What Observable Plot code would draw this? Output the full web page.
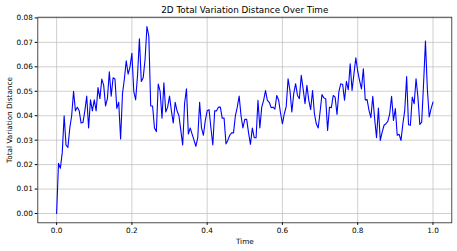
<!DOCTYPE html>
<html>
<head>
<meta charset="utf-8">
<script src="https://cdn.jsdelivr.net/npm/d3@7"></script>
<script src="https://cdn.jsdelivr.net/npm/@observablehq/plot@0.6"></script>
<style>
html, body { margin: 0; padding: 0; background: #fff; }
</style>
</head>
<body>
<div id="chart"></div>
<script>
const title = "2D Total Variation Distance Over Time";
const xLabel = "Time";
const yLabel = "Total Variation Distance";
const xTicks = [0, 0.2, 0.4, 0.6, 0.8, 1.0];
const yTicks = [0, 0.01, 0.02, 0.03, 0.04, 0.05, 0.06, 0.07, 0.08];
const tvd = [
  0, 0.0205, 0.0185, 0.025, 0.040, 0.028, 0.027, 0.035, 0.040, 0.050,
  0.042, 0.0435, 0.042, 0.037, 0.0372, 0.042, 0.048, 0.035, 0.0465, 0.042,
  0.0465, 0.042, 0.0515, 0.047, 0.055, 0.0525, 0.044, 0.047, 0.058, 0.048,
  0.0555, 0.055, 0.043, 0.0455, 0.0305, 0.049, 0.055, 0.0625, 0.057, 0.060,
  0.0655, 0.050, 0.0465, 0.0565, 0.0715, 0.054, 0.0555, 0.063, 0.0765, 0.0725,
  0.044, 0.044, 0.035, 0.0335, 0.053, 0.050, 0.039, 0.0535, 0.0415, 0.0435,
  0.048, 0.042, 0.037, 0.0455, 0.042, 0.040, 0.034, 0.028, 0.045, 0.051,
  0.0325, 0.035, 0.0325, 0.030, 0.0275, 0.031, 0.0455, 0.035, 0.032, 0.038,
  0.042, 0.0425, 0.035, 0.028, 0.042, 0.042, 0.0435, 0.0435, 0.039, 0.039,
  0.0285, 0.030, 0.032, 0.033, 0.033, 0.040, 0.0435, 0.048, 0.040, 0.035,
  0.0385, 0.0385, 0.033, 0.0283, 0.035, 0.031, 0.031, 0.0463, 0.035, 0.0435,
  0.0463, 0.0503, 0.0463, 0.0455, 0.0433, 0.0435, 0.0427, 0.0483, 0.0463, 0.041,
  0.0367, 0.0408, 0.0437, 0.0551, 0.0503, 0.0415, 0.049, 0.0531, 0.0483, 0.047,
  0.0565, 0.051, 0.0449, 0.0524, 0.0463, 0.0425, 0.0503, 0.0408, 0.0367, 0.035,
  0.0415, 0.0487, 0.0473, 0.0469, 0.034, 0.0435, 0.0433, 0.0483, 0.0476, 0.0405,
  0.0499, 0.0531, 0.0528, 0.0463, 0.0541, 0.0506, 0.0612, 0.0503, 0.0571, 0.0637,
  0.0582, 0.0544, 0.051, 0.0592, 0.0465, 0.0466, 0.0422, 0.0392, 0.0479, 0.0388,
  0.031, 0.0431, 0.0299, 0.0333, 0.0361, 0.0367, 0.0377, 0.0408, 0.0479, 0.0381,
  0.0429, 0.032, 0.0324, 0.0299, 0.0367, 0.0422, 0.056, 0.0363, 0.0361, 0.0476,
  0.0449, 0.0551, 0.0476, 0.0364, 0.0374, 0.0531, 0.0705, 0.051, 0.0395, 0.0429,
  0.0456
];
const time = tvd.map((_, i) => i / (tvd.length - 1));
const data = tvd.map((v, i) => ({t: time[i], v}));

const font = "DejaVu Sans";
const chart = Plot.plot({
  width: 457,
  height: 251,
  marginLeft: 37.3,
  marginRight: 5.7,
  marginTop: 16.7,
  marginBottom: 28.7,
  style: {fontFamily: font, fontSize: "7.3px", background: "#fff", color: "#000"},
  x: {domain: [-0.05, 1.05]},
  y: {domain: [-0.0038, 0.0803]},
  marks: [
    Plot.gridX(xTicks, {stroke: "#b0b0b0", strokeOpacity: 0.75, strokeWidth: 0.8}),
    Plot.gridY(yTicks, {stroke: "#b0b0b0", strokeOpacity: 0.75, strokeWidth: 0.8}),
    Plot.axisX({ticks: xTicks, tickFormat: d3.format(".1f"), tickSize: 2.6, tickPadding: 2.4, fontSize: 7.3, label: null}),
    Plot.axisY({ticks: yTicks, tickFormat: d3.format(".2f"), tickSize: 2.6, tickPadding: 2.4, fontSize: 7.3, label: null}),
    Plot.line(data, {x: "t", y: "v", stroke: "#0000ff", strokeWidth: 1.1}),
    Plot.frame({stroke: "#222", strokeWidth: 0.8}),
    Plot.text([title], {frameAnchor: "top", lineAnchor: "middle", dy: -7.5, fontSize: 8.8, fill: "#000"}),
    Plot.text([xLabel], {frameAnchor: "bottom", lineAnchor: "middle", dy: 18.4, fontSize: 7.3, fill: "#000"}),
    Plot.text([yLabel], {frameAnchor: "left", textAnchor: "middle", lineAnchor: "middle", rotate: -90, dx: -28.5, fontSize: 7.3, fill: "#000"})
  ]
});
document.getElementById("chart").appendChild(chart);
</script>
</body>
</html>
